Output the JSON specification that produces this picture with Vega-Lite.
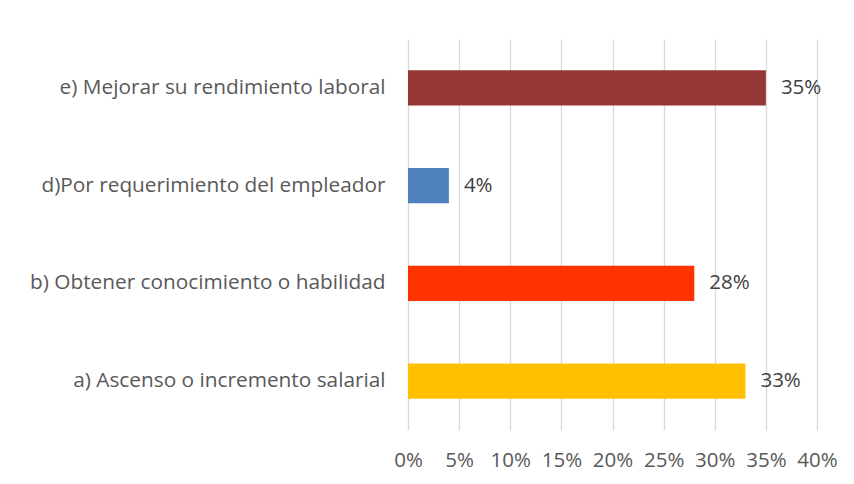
{
  "$schema": "https://vega.github.io/schema/vega-lite/v6.json",
  "autosize": "none",
  "padding": {"left": 408, "top": 39, "right": 37, "bottom": 54},
  "width": 409,
  "height": 391,
  "data": {"values": [
    {"cat": "e) Mejorar su rendimiento laboral", "value": 0.35},
    {"cat": "d)Por requerimiento del empleador", "value": 0.04},
    {"cat": "b) Obtener conocimiento o habilidad", "value": 0.28},
    {"cat": "a) Ascenso o incremento salarial", "value": 0.33}
  ]},
  "config": {
    "view": {"stroke": null},
    "font": "Open Sans"
  },
  "encoding": {
    "y": {"field": "cat", "type": "nominal", "sort": null,
      "scale": {"paddingInner": 0.64, "paddingOuter": 0.32},
      "axis": {"title": null, "domain": false, "ticks": false, "labelPadding": 23,
        "labelFontSize": 20.8, "labelColor": "#595959", "labelFont": "Open Sans", "labelLimit": 400}},
    "x": {"field": "value", "type": "quantitative",
      "scale": {"domain": [0, 0.4], "nice": false},
      "axis": {"title": null, "format": ".0%", "values": [0,0.05,0.1,0.15,0.2,0.25,0.3,0.35,0.4],
        "domain": false, "ticks": false, "labelPadding": 20, "labelFontSize": 20.5, "labelColor": "#595959",
        "labelFont": "Open Sans", "gridColor": "#d9d9d9", "gridWidth": 1.3, "labelFlush": false}}
  },
  "layer": [
    {"mark": {"type": "bar"},
     "encoding": {"color": {"field": "cat", "type": "nominal", "legend": null,
       "scale": {"domain": ["e) Mejorar su rendimiento laboral", "d)Por requerimiento del empleador", "b) Obtener conocimiento o habilidad", "a) Ascenso o incremento salarial"],
                 "range": ["#943634", "#4f81bd", "#ff3300", "#ffc000"]}}}},
    {"mark": {"type": "text", "align": "left", "dx": 15, "fontSize": 20.5, "color": "#404040", "font": "Open Sans"},
     "encoding": {"text": {"field": "value", "format": ".0%"}}}
  ]
}
